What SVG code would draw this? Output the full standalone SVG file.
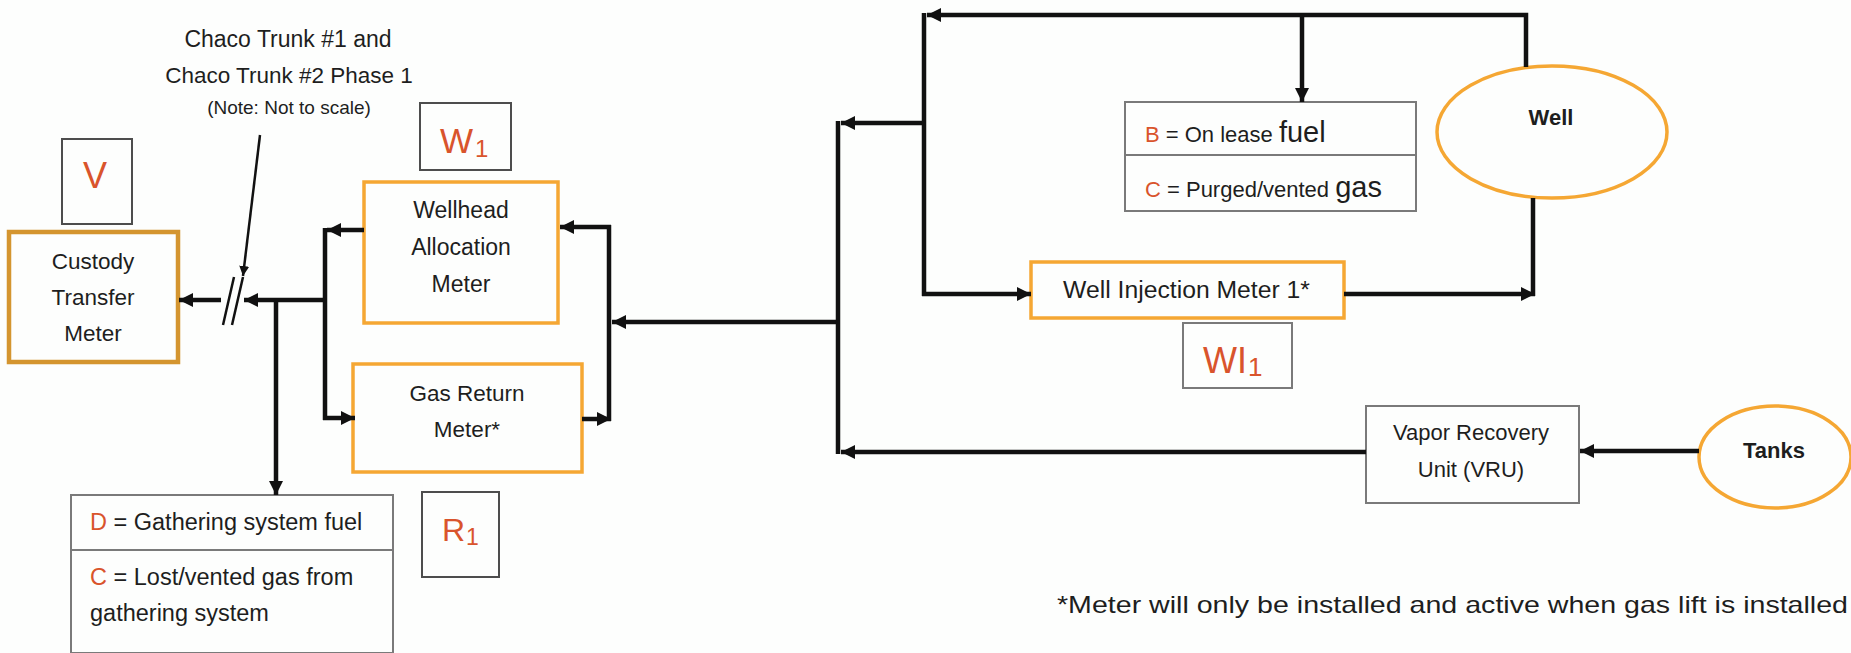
<svg xmlns="http://www.w3.org/2000/svg" width="1851" height="653" viewBox="0 0 1851 653">
<defs>
<marker id="ah" markerUnits="userSpaceOnUse" markerWidth="16" markerHeight="16" refX="14" refY="7" orient="auto">
<path d="M0,0 L14,7 L0,14 z" fill="#111"/>
</marker>
<marker id="sm" markerUnits="userSpaceOnUse" markerWidth="12" markerHeight="12" refX="10" refY="5" orient="auto">
<path d="M0,0 L10,5 L0,10 z" fill="#111"/>
</marker>
<style>
text{font-family:"Liberation Sans",Arial,sans-serif;fill:#1e1e1e}
.c{text-anchor:middle}
.r{fill:#d9542c}
.b{font-weight:bold}
.ob{fill:none;stroke:#f5a733;stroke-width:3.5}
.gb{fill:none;stroke:#7a7a7a;stroke-width:2}
.lb{fill:none;stroke:#4d4d4d;stroke-width:2}
.ln{fill:none;stroke:#111;stroke-width:4.5}
.arr{fill:none;stroke:#111;stroke-width:4.5;marker-end:url(#ah)}
.thin{fill:none;stroke:#111;stroke-width:2.5}
</style>
</defs>
<rect width="1851" height="653" fill="#fdfefd"/>

<g id="note">
<text class="c" x="288" y="47" font-size="23">Chaco Trunk #1 and</text>
<text class="c" x="289" y="83" font-size="22.5">Chaco Trunk #2 Phase 1</text>
<text class="c" x="289" y="114" font-size="19">(Note: Not to scale)</text>
</g>

<g id="label-v">
<rect class="lb" x="62" y="139" width="70" height="85"/>
<text class="c r" x="95" y="188" font-size="36">V</text>
</g>

<g id="custody">
<rect x="9" y="232" width="169" height="130" fill="none" stroke="#d4952f" stroke-width="4.5"/>
<text class="c" x="93" y="269" font-size="22.5">Custody</text>
<text class="c" x="93" y="305" font-size="22.5">Transfer</text>
<text class="c" x="93" y="341" font-size="22.5">Meter</text>
</g>

<g id="label-w1">
<rect class="lb" x="420" y="103" width="91" height="67"/>
<text class="r" x="440" y="153" font-size="35">W</text>
<text class="r" x="475" y="157" font-size="24">1</text>
</g>

<g id="wellhead">
<rect class="ob" x="364" y="182" width="194" height="141"/>
<text class="c" x="461" y="218" font-size="23">Wellhead</text>
<text class="c" x="461" y="255" font-size="23">Allocation</text>
<text class="c" x="461" y="292" font-size="23">Meter</text>
</g>

<g id="gasreturn">
<rect class="ob" x="353" y="364" width="229" height="108"/>
<text class="c" x="467" y="401" font-size="22.5">Gas Return</text>
<text class="c" x="467" y="437" font-size="22.5">Meter*</text>
</g>

<g id="label-r1">
<rect class="lb" x="422" y="492" width="77" height="85"/>
<text class="r" x="442" y="541" font-size="32">R</text>
<text class="r" x="466" y="545" font-size="23">1</text>
</g>

<g id="gathering">
<rect class="gb" x="71" y="495" width="322" height="55"/>
<rect class="gb" x="71" y="550" width="322" height="103"/>
<text x="90" y="530" font-size="23.5"><tspan class="r">D</tspan> = Gathering system fuel</text>
<text x="90" y="585" font-size="23.5"><tspan class="r">C</tspan> = Lost/vented gas from</text>
<text x="90" y="621" font-size="23.5">gathering system</text>
</g>

<g id="lease">
<rect class="gb" x="1125" y="102" width="291" height="53"/>
<rect class="gb" x="1125" y="155" width="291" height="56"/>
<text x="1145" y="142" font-size="22"><tspan class="r">B</tspan> = On lease <tspan font-size="29">fuel</tspan></text>
<text x="1145" y="197" font-size="22"><tspan class="r">C</tspan> = Purged/vented <tspan font-size="29">gas</tspan></text>
</g>

<g id="well">
<ellipse class="ob" cx="1552" cy="132" rx="115" ry="66"/>
<text class="c b" x="1551" y="125" font-size="22">Well</text>
</g>

<g id="injection">
<rect class="ob" x="1031" y="262" width="313" height="56"/>
<text x="1063" y="298" font-size="23" textLength="247" lengthAdjust="spacingAndGlyphs">Well Injection Meter 1*</text>
</g>

<g id="label-wi1">
<rect class="gb" x="1183" y="323" width="109" height="65"/>
<text class="r" x="1203" y="373" font-size="36">WI</text>
<text class="r" x="1248" y="376" font-size="26">1</text>
</g>

<g id="vru">
<rect class="gb" x="1366" y="406" width="213" height="97"/>
<text class="c" x="1471" y="440" font-size="22">Vapor Recovery</text>
<text class="c" x="1471" y="477" font-size="22">Unit (VRU)</text>
</g>

<g id="tanks">
<ellipse class="ob" cx="1775" cy="457" rx="76" ry="51"/>
<text class="c b" x="1774" y="458" font-size="22">Tanks</text>
</g>

<g id="footnote">
<text x="1057" y="613" font-size="24" textLength="791" lengthAdjust="spacingAndGlyphs">*Meter will only be installed and active when gas lift is installed</text>
</g>

<g id="connectors">
<path class="arr" d="M221,300 L179,300"/>
<path class="arr" d="M325,300 L244,300"/>
<path class="arr" d="M276,300 L276,495"/>
<path class="ln" d="M325,228 L325,420"/>
<path class="arr" d="M364,230 L327,230"/>
<path class="arr" d="M323,418 L355,418"/>
<path class="arr" d="M582,419 L611,419"/>
<path class="ln" d="M609,225 L609,421"/>
<path class="arr" d="M611,227 L560,227"/>
<path class="arr" d="M840,322 L612,322"/>
<path class="ln" d="M838,121 L838,454"/>
<path class="arr" d="M926,123 L841,123"/>
<path class="ln" d="M924,13 L924,296"/>
<path class="arr" d="M922,294 L1031,294"/>
<path class="arr" d="M1526,67 L1526,15 L927,15"/>
<path class="arr" d="M1302,15 L1302,102"/>
<path class="ln" d="M1533,198 L1533,296"/>
<path class="arr" d="M1344,294 L1535,294"/>
<path class="arr" d="M1366,452 L841,452"/>
<path class="arr" d="M1699,451 L1580,451"/>
<path class="thin" d="M260,135 L243,276" style="marker-end:url(#sm)"/>
<path class="thin" d="M223,325 L234,277"/>
<path class="thin" d="M232,325 L243,277"/>
</g>
</svg>
